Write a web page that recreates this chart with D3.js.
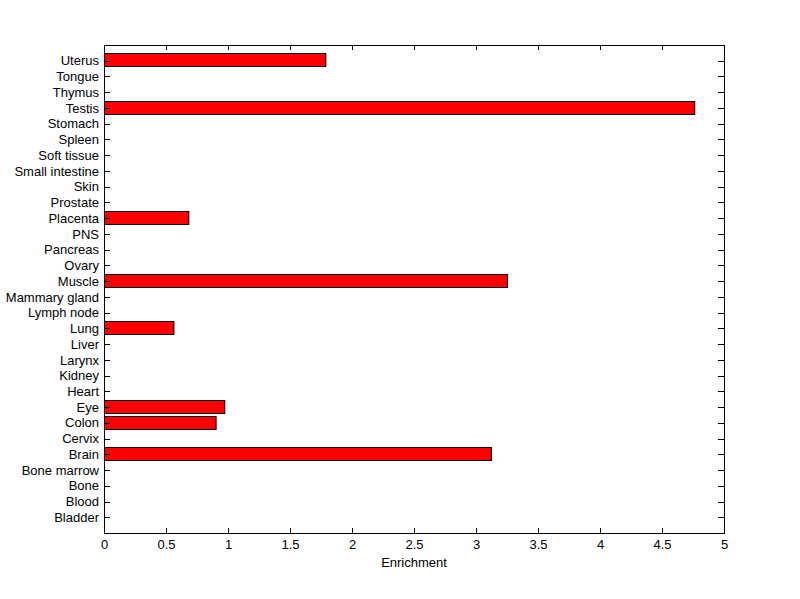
<!DOCTYPE html>
<html>
<head>
<meta charset="utf-8">
<script src="https://cdn.jsdelivr.net/npm/d3@7"></script>
<style>
body{margin:0;background:#fff;}
text{font-family:"Liberation Sans",Arial,Helvetica,sans-serif;font-size:13px;fill:#000;}
</style>
</head>
<body>
<script>
// tissues, bottom to top as drawn
var tissues=["Bladder","Blood","Bone","Bone marrow","Brain","Cervix","Colon","Eye","Heart","Kidney",
	"Larynx","Liver","Lung","Lymph node","Mammary gland","Muscle","Ovary","Pancreas","PNS","Placenta",
	"Prostate","Skin","Small intestine","Soft tissue","Spleen","Stomach","Testis","Thymus","Tongue","Uterus"];
var enrichment=[0,0,0,0,3.12,0,0.90,0.97,0,0,
	0,0,0.56,0,0,3.25,0,0,0,0.68,
	0,0,0,0,0,0,4.76,0,0,1.785];
var xTicks=[0,0.5,1,1.5,2,2.5,3,3.5,4,4.5,5];

var width=800,height=599;
var mLeft=104,mRight=724,mTop=45,mBottom=533;

var svg=d3.select('body').append('svg')
	.attr('width',width)
	.attr('height',height);

var data=tissues.map(function(t,i){return {name:t,pos:i+1,val:enrichment[i]};});

var x=d3.scaleLinear().domain([0,5]).range([mLeft,mRight]);
var y=d3.scaleLinear().domain([0,tissues.length+1]).range([mBottom,mTop]);
var barH=(y(0)-y(1))*0.8;

// bars
svg.selectAll('.bar')
	.data(data.filter(function(d){return d.val>0;}))
	.enter().append('rect')
	.attr('class','bar')
	.attr('x',x(0)+0.5)
	.attr('y',function(d){return Math.round(y(d.pos)-barH/2)-0.5;})
	.attr('width',function(d){return x(d.val)-x(0);})
	.attr('height',Math.round(barH))
	.attr('fill','#ff0000')
	.attr('stroke','#000')
	.attr('stroke-width',1);

// axes (MATLAB style: ticks pointing in, mirrored on the opposite side)
var xAxis=d3.axisBottom(x).tickValues(xTicks).tickSize(-5).tickPadding(7).tickFormat(d3.format('~g'));
var xTop=d3.axisTop(x).tickValues(xTicks).tickSize(-5).tickFormat('');
var yAxis=d3.axisLeft(y).tickValues(data.map(function(d){return d.pos;}))
	.tickSize(-6).tickPadding(5).tickFormat(function(p){return tissues[p-1];});
var yRight=d3.axisRight(y).tickValues(data.map(function(d){return d.pos;})).tickSize(-6).tickFormat('');

function styleAxis(g){
	g.select('.domain').remove();
	g.selectAll('line').attr('stroke','#000').attr('shape-rendering','crispEdges');
	g.selectAll('text').attr('font-family','"Liberation Sans",Arial,sans-serif').attr('font-size',13).attr('fill','#000');
}

svg.append('g').attr('transform','translate(0,'+mBottom+')').call(xAxis).call(styleAxis);
svg.append('g').attr('transform','translate(0,'+mTop+')').call(xTop).call(styleAxis);
svg.append('g').attr('transform','translate('+mLeft+',0)').call(yAxis).call(styleAxis);
svg.append('g').attr('transform','translate('+mRight+',0)').call(yRight).call(styleAxis);

// box
svg.append('rect')
	.attr('x',mLeft+0.5).attr('y',mTop+0.5)
	.attr('width',mRight-mLeft).attr('height',mBottom-mTop)
	.attr('fill','none').attr('stroke','#000')
	.attr('shape-rendering','crispEdges');

svg.append('text')
	.attr('text-anchor','middle')
	.attr('x',(mLeft+mRight)/2)
	.attr('y',567)
	.text('Enrichment');
</script>
</body>
</html>
